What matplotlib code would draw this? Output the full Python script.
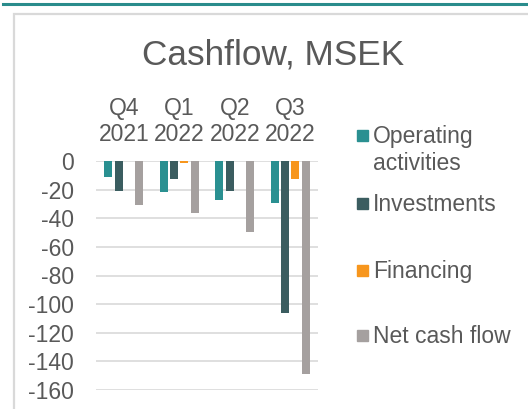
import matplotlib.pyplot as plt
import matplotlib.patches as mpatches
import matplotlib.lines as mlines
import numpy as np

plt.rcParams['font.family'] = ['Liberation Sans', 'DejaVu Sans']
plt.rcParams['axes.unicode_minus'] = False

quarters = ['Q4\n2021', 'Q1\n2022', 'Q2\n2022', 'Q3\n2022']
series = ['Operating\nactivities', 'Investments', 'Financing', 'Net cash flow']
operating = [-11, -21.5, -27, -29]
investments = [-21, -12.5, -21, -106]
financing = [0, -1.3, -0.3, -12.6]
net_flow = [-31, -36, -49.5, -148.5]
colors = ['#2A9091', '#3B5D60', '#F7961D', '#A5A09F']
text_col = '#595959'

W, H = 528, 409
fig = plt.figure(figsize=(W / 100, H / 100), dpi=100)

# top teal rule and light frame
fig.add_artist(mlines.Line2D([3 / W, 1], [1 - 4 / H, 1 - 4 / H], color='#2A8C8C', lw=2.2))
fig.add_artist(mpatches.Rectangle((14 / W, -0.1), 1.2, 1 - 14 / H + 0.1, fill=False,
                                  edgecolor='#D9D9D9', lw=1.6, transform=fig.transFigure))

ax = fig.add_axes([96 / W, 1 - 390 / H, 222 / W, 229 / H])
x = np.arange(len(quarters))
slot = 0.186
width = 0.145
for i, vals in enumerate([operating, investments, financing, net_flow]):
    ax.bar(x + (i - 1.5) * slot, vals, width, color=colors[i], zorder=3)

ax.set_xlim(-0.5, 3.5)
ax.set_ylim(-160, 0)
ax.set_yticks(np.arange(-160, 1, 20))
ax.yaxis.grid(True, color='#D9D9D9', lw=1.2, zorder=0)
ax.set_axisbelow(True)
for s in ax.spines.values():
    s.set_visible(False)
ax.tick_params(axis='y', length=0, pad=16, labelsize=16.5, labelcolor=text_col)
ax.xaxis.tick_top()
ax.set_xticks(x)
ax.set_xticklabels(quarters, linespacing=1.15)
ax.tick_params(axis='x', length=0, pad=11, labelsize=16.5, labelcolor=text_col)

fig.text(273 / W, 1 - 55 / H, 'Cashflow, MSEK', ha='center', va='center',
         fontsize=25.3, color=text_col)

# legend
leg_y = [135, 203, 270, 335]
for lbl, c, yy in zip(series, colors, leg_y):
    fig.add_artist(mpatches.Rectangle((357 / W, 1 - (yy + 5.5) / H), 11 / W, 11 / H,
                                      color=c, transform=fig.transFigure))
    fig.text(373 / W, 1 - (yy - 10) / H, lbl, ha='left', va='top', fontsize=16.5,
             color=text_col, linespacing=1.22)

fig.savefig('out.png', dpi=100)
